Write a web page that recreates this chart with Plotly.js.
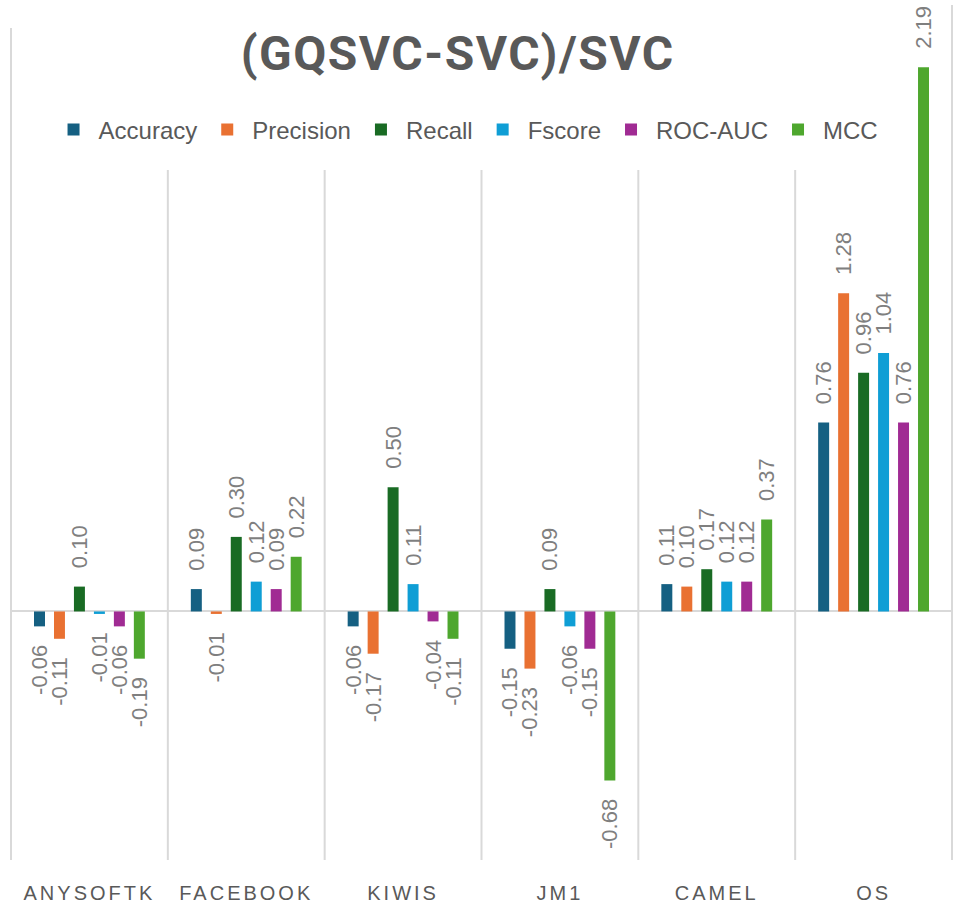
<!DOCTYPE html>
<html>
<head>
<meta charset="utf-8">
<script src="https://cdn.plot.ly/plotly-3.0.1.min.js"></script>
<style>
  html, body { margin: 0; padding: 0; background: #fff; }
  #chart { width: 978px; height: 911px; }
  .xtick text { letter-spacing: 3px; }
  .gtitle { letter-spacing: 1.5px; }
</style>
</head>
<body>
<div id="chart"></div>
<script>
// ---- data ----
const categories = ["ANYSOFTK", "FACEBOOK", "KIWIS", "JM1", "CAMEL", "OS"];
const seriesNames = ["Accuracy", "Precision", "Recall", "Fscore", "ROC-AUC", "MCC"];
const accuracy  = [-0.06,  0.09, -0.06, -0.15, 0.11, 0.76];
const precision = [-0.11, -0.01, -0.17, -0.23, 0.10, 1.28];
const recall    = [ 0.10,  0.30,  0.50,  0.09, 0.17, 0.96];
const fscore    = [-0.01,  0.12,  0.11, -0.06, 0.12, 1.04];
const rocauc    = [-0.06,  0.09, -0.04, -0.15, 0.12, 0.76];
const mcc       = [-0.19,  0.22, -0.11, -0.68, 0.37, 2.19];
const seriesValues = [accuracy, precision, recall, fscore, rocauc, mcc];
const seriesColors = ["#156082", "#E97132", "#196B24", "#0F9ED5", "#A02B93", "#4EA72E"];

// ---- build chart ----
const PAD = "\u2002\u2009"; // spacing between bar end and its label
function labelFor(v) {
  const s = v.toFixed(2);
  return v >= 0 ? PAD + s : s + PAD;
}

const traces = seriesNames.map((name, i) => ({
  type: "bar",
  name: name,
  x: categories,
  y: seriesValues[i],
  text: seriesValues[i].map(labelFor),
  textposition: "outside",
  textangle: -90,
  constraintext: "none",
  cliponaxis: false,
  textfont: { family: "Liberation Sans, Arial, sans-serif", size: 22, color: "#7F7F7F" },
  marker: { color: seriesColors[i], line: { width: 0 } },
  hoverinfo: "x+y+name"
}));

const shapes = [];
for (let k = 0; k <= categories.length; k++) {
  let top = 0.807;
  if (k === 0) top = 0.973;
  if (k === categories.length) top = 1.0;
  shapes.push({
    type: "line", layer: "below",
    xref: "x", yref: "paper",
    x0: k - 0.5, x1: k - 0.5, y0: 0, y1: top,
    line: { color: "#D9D9D9", width: 2 }
  });
}

const layout = {
  width: 978, height: 911,
  margin: { l: 10, r: 25, t: 5, b: 51, autoexpand: false },
  paper_bgcolor: "#FFFFFF",
  plot_bgcolor: "rgba(0,0,0,0)",
  barmode: "group",
  bargap: 0.236,
  bargroupgap: 0.45,
  title: {
    text: "<b>(GQSVC-SVC)/SVC</b>",
    font: { family: "Roboto, Liberation Sans, Arial, sans-serif", size: 48, color: "#595959" },
    xref: "container", x: 0.468, xanchor: "center",
    yref: "container", y: 0.942, yanchor: "middle"
  },
  showlegend: true,
  legend: {
    orientation: "h",
    xref: "paper", x: 0.4836, xanchor: "center",
    yref: "paper", y: 0.854, yanchor: "middle",
    font: { family: "Liberation Sans, Arial, sans-serif", size: 24, color: "#595959" },
    itemwidth: 40,
    bgcolor: "rgba(0,0,0,0)",
    traceorder: "normal"
  },
  xaxis: {
    type: "category",
    showgrid: false,
    zeroline: false,
    showline: false,
    ticks: "",
    ticklabelstandoff: 19,
    tickfont: { family: "Liberation Sans, Arial, sans-serif", size: 20, color: "#595959" },
    fixedrange: true
  },
  yaxis: {
    range: [-1.0, 2.44],
    showgrid: false,
    showticklabels: false,
    ticks: "",
    zeroline: true,
    zerolinecolor: "#D9D9D9",
    zerolinewidth: 2,
    showline: false,
    fixedrange: true
  },
  shapes: shapes
};

Plotly.newPlot("chart", traces, layout, { displayModeBar: false, staticPlot: true });
</script>
</body>
</html>
